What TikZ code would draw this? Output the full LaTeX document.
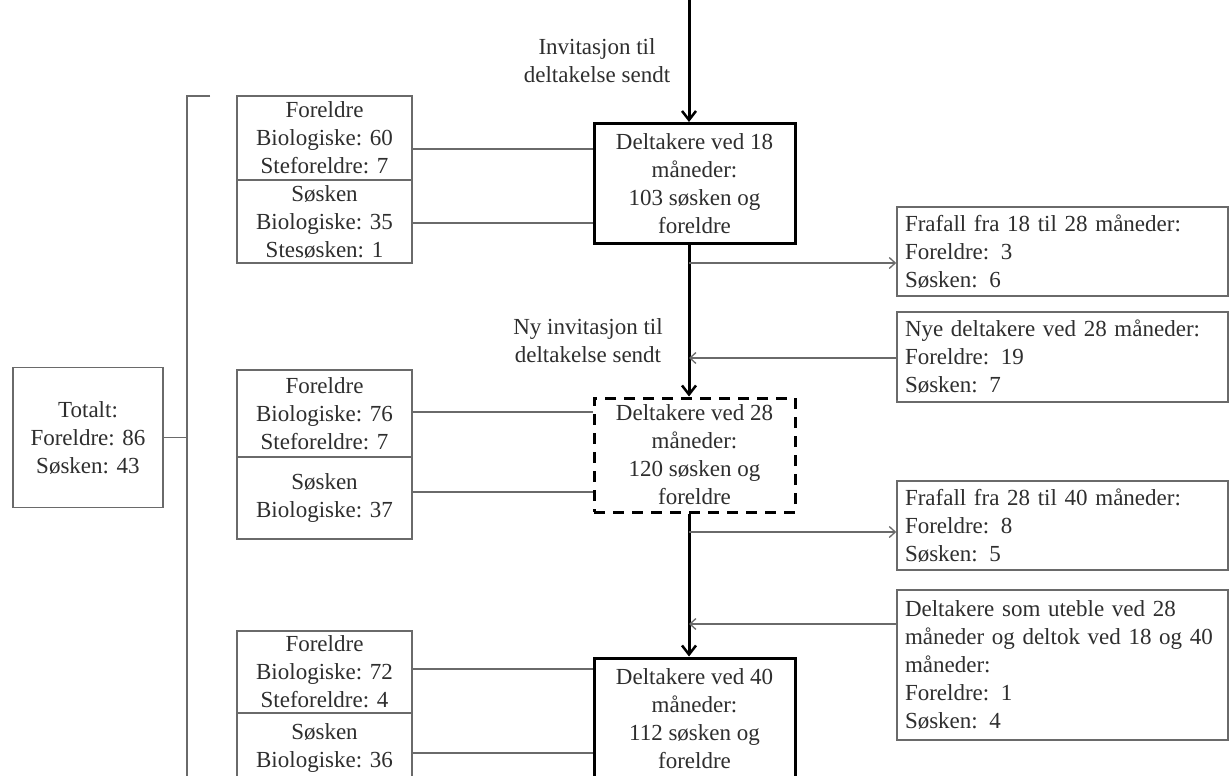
\documentclass[tikz,border=0pt]{standalone}
\usepackage{fontspec}
\setmainfont{Liberation Serif}
\usetikzlibrary{arrows.meta}
\definecolor{txt}{HTML}{2E2E2E}
\definecolor{ln}{HTML}{6A6A6A}
\begin{document}
\begin{tikzpicture}[x=1pt,y=-1pt,
  every node/.style={font=\fontsize{23}{28}\selectfont, text=txt},
  thinbox/.style={draw=ln, line width=1.6pt, inner sep=0pt, align=center},
  mainbox/.style={draw=black, line width=3pt, inner sep=0pt, align=center, minimum width=201pt},
  dashbox/.style={mainbox, dash pattern=on 11pt off 8pt},
  sidebox/.style={draw=ln, line width=1.6pt, inner sep=0pt, minimum width=331pt, text width=315pt, align=left},
  conn/.style={draw=ln, line width=1.3pt},
  sidearrow/.style={conn, -{Straight Barb[length=6pt,width=11pt,line width=1.3pt]}},
  mainarrow/.style={draw=black, line width=3pt, -{Straight Barb[length=9pt,width=14pt,line width=2.5pt]}},
  lbl/.style={align=center}
]
\clip (0,0) rectangle (1231,776);
\fill[white] (0,0) rectangle (1231,776);

% main column
\node[mainbox, minimum height=120pt] (d18) at (694.5,183.5) {Deltakere ved 18\\måneder:\\103 søsken og\\foreldre};
\node[dashbox, minimum height=114pt] (d28) at (694.5,455) {Deltakere ved 28\\måneder:\\120 søsken og\\foreldre};
\node[mainbox, minimum height=122pt] (d40) at (694.5,719) {Deltakere ved 40\\måneder:\\112 søsken og\\foreldre};

\coordinate (top) at (689,0);
\coordinate (c1) at (689,263);
\coordinate (c2) at (689,358);
\coordinate (c3) at (689,532);
\coordinate (c4) at (689,624);

\draw[mainarrow] (top) -- (top |- d18.north);
\draw[mainarrow] (top |- d18.south) -- (top |- d28.north);
\draw[mainarrow] (top |- d28.south) -- (top |- d40.north);

\node[lbl] (inv1) at (597,61) {Invitasjon til\\deltakelse sendt};
\node[lbl] (inv2) at (588,341) {Ny invitasjon til\\deltakelse sendt};

% right boxes
\node[sidebox, minimum height=89pt] (f1) at (1062.5,251.5) {Frafall fra 18 til 28 måneder:\\Foreldre: 3\\Søsken: 6};
\node[sidebox, minimum height=90pt] (n28) at (1062.5,357) {Nye deltakere ved 28 måneder:\\Foreldre: 19\\Søsken: 7};
\node[sidebox, minimum height=89pt] (f2) at (1062.5,525.5) {Frafall fra 28 til 40 måneder:\\Foreldre: 8\\Søsken: 5};
\node[sidebox, minimum height=150pt] (ut) at (1062.5,665) {Deltakere som uteble ved 28\\måneder og deltok ved 18 og 40\\måneder:\\Foreldre: 1\\Søsken: 4};

\draw[sidearrow] (c1) -- (c1 -| f1.west);
\draw[sidearrow] (n28.west |- c2) -- (c2);
\draw[sidearrow] (c3) -- (c3 -| f2.west);
\draw[sidearrow] (ut.west |- c4) -- (c4);

% left groups
\node[thinbox, minimum width=175pt, minimum height=84pt] (g1u) at (324.5,138) {Foreldre\\Biologiske: 60\\Steforeldre: 7};
\node[thinbox, minimum width=175pt, minimum height=83pt] (g1l) at (324.5,221.5) {Søsken\\Biologiske: 35\\Stesøsken: 1};
\node[thinbox, minimum width=175pt, minimum height=87pt] (g2u) at (324.5,413.5) {Foreldre\\Biologiske: 76\\Steforeldre: 7};
\node[thinbox, minimum width=175pt, minimum height=82pt] (g2l) at (324.5,498) {Søsken\\Biologiske: 37};
\node[thinbox, minimum width=175pt, minimum height=82pt] (g3u) at (324.5,672) {Foreldre\\Biologiske: 72\\Steforeldre: 4};
\node[thinbox, minimum width=175pt, minimum height=70pt] (g3l) at (324.5,748) {Søsken\\Biologiske: 36};

\draw[conn] (g1u.east |- 0,149) -- (d18.west |- 0,149);
\draw[conn] (g1l.east |- 0,223) -- (d18.west |- 0,223);
\draw[conn] (g2u.east |- 0,412) -- (d28.west |- 0,412);
\draw[conn] (g2l.east |- 0,492) -- (d28.west |- 0,492);
\draw[conn] (g3u.east |- 0,669) -- (d40.west |- 0,669);
\draw[conn] (g3l.east |- 0,753) -- (d40.west |- 0,753);

% total and bracket
\node[thinbox, minimum width=150pt, minimum height=140pt] (tot) at (88,437.5) {Totalt:\\Foreldre: 86\\Søsken: 43};
\coordinate (bt) at (187,96);
\coordinate (btick) at (210,96);
\coordinate (bb) at (187,776);
\draw[conn] (btick) -- (bt) -- (bb);
\draw[conn] (tot.east) -- (tot.east -| bt);
\end{tikzpicture}
\end{document}
